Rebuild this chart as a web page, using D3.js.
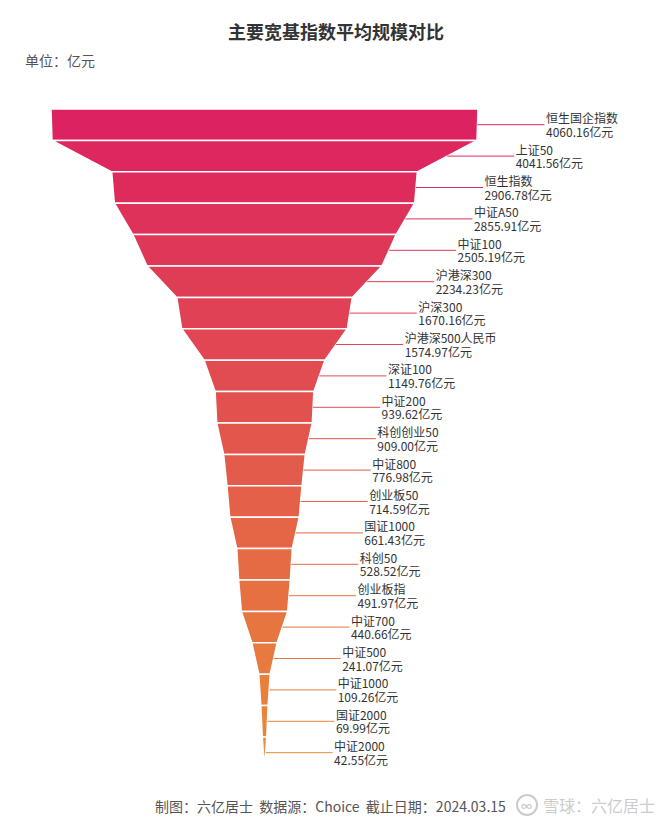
<!DOCTYPE html>
<html>
<head>
<meta charset="utf-8">
<script src="https://cdn.jsdelivr.net/npm/d3@7/dist/d3.min.js"></script>
<style>
  html, body { margin: 0; padding: 0; background: #fff; }
  svg { display: block; }
  text { font-family: "Noto Sans CJK SC", "Microsoft YaHei", sans-serif; }
</style>
</head>
<body>
<svg id="chart" width="672" height="824"></svg>
<script>
const names = ["恒生国企指数","上证50","恒生指数","中证A50","中证100","沪港深300","沪深300","沪港深500人民币","深证100","中证200","科创创业50","中证800","创业板50","国证1000","科创50","创业板指","中证700","中证500","中证1000","国证2000","中证2000"];
const values = [4060.16,4041.56,2906.78,2855.91,2505.19,2234.23,1670.16,1574.97,1149.76,939.62,909.00,776.98,714.59,661.43,528.52,491.97,440.66,241.07,109.26,69.99,42.55];
const unit = "亿元";
const titleText = "主要宽基指数平均规模对比";
const unitLabel = "单位：亿元";
const footerText = "制图：六亿居士  数据源：Choice  截止日期：2024.03.15";
const watermarkText = "雪球：六亿居士";

const svg = d3.select("#chart");
const cx = 264.5;
const colorStart = "#dc2260", colorEnd = "#e98a38";

const y = d3.scaleBand().domain(names).range([109, 768.4]).padding(0);
const w = d3.scaleLinear().domain([0, d3.max(values)]).range([0, 427]);
const col = d3.scaleLinear().domain([0, names.length - 1]).range([colorStart, colorEnd]).interpolate(d3.interpolateRgb);
const fmt = d3.format(".2f");

const data = names.map((n, i) => ({
  name: n, value: values[i], idx: i,
  next: i + 1 < values.length ? values[i + 1] : 0
}));

// title
svg.append("text").attr("x", 336).attr("y", 31).attr("text-anchor", "middle")
  .attr("dominant-baseline", "central")
  .attr("font-size", 18).attr("font-weight", "bold").attr("fill", "#333").text(titleText);
svg.append("text").attr("x", 25).attr("y", 60)
  .attr("dominant-baseline", "central")
  .attr("font-size", 14).attr("fill", "#555").text(unitLabel);

const h = y.bandwidth();
const g = svg.append("g");

g.selectAll("path.seg").data(data).join("path")
  .attr("class", "seg")
  .attr("d", d => {
    const y0 = y(d.name), y1 = y0 + h;
    const a = w(d.value) / 2, b = w(d.next) / 2;
    return `M${cx - a},${y0}L${cx + a},${y0}L${cx + b},${y1}L${cx - b},${y1}Z`;
  })
  .attr("fill", d => col(d.idx))
  .attr("stroke", "#fff").attr("stroke-width", 1.5).attr("stroke-linejoin", "round");

const lineLen = 67;
const edgeX = d => cx + (w(d.value) + w(d.next)) / 4;
const lab = g.selectAll("g.lab").data(data).join("g").attr("class", "lab");
lab.append("line")
  .attr("x1", d => edgeX(d))
  .attr("x2", d => edgeX(d) + lineLen)
  .attr("y1", d => y(d.name) + h / 2)
  .attr("y2", d => y(d.name) + h / 2)
  .attr("stroke", d => col(d.idx)).attr("stroke-width", 1);
lab.append("text")
  .attr("x", d => edgeX(d) + lineLen + 1.5)
  .attr("y", d => y(d.name) + h / 2 - 7)
  .attr("dominant-baseline", "central")
  .attr("font-size", 12).attr("fill", "#333").text(d => d.name);
lab.append("text")
  .attr("x", d => edgeX(d) + lineLen + 1.5)
  .attr("y", d => y(d.name) + h / 2 + 6.5)
  .attr("dominant-baseline", "central")
  .attr("font-size", 12).attr("fill", "#333").text(d => fmt(d.value) + unit);

// footer
svg.append("text").attr("x", 155).attr("y", 806).attr("dominant-baseline", "central")
  .attr("font-size", 14).attr("fill", "#555").attr("xml:space", "preserve").text(footerText);

// watermark
const wm = svg.append("g").attr("opacity", 0.6);
wm.append("rect").attr("x", 512).attr("y", 793).attr("width", 150).attr("height", 26).attr("fill", "#fff").attr("opacity", 0.5);
wm.append("circle").attr("cx", 527).attr("cy", 805).attr("r", 10)
  .attr("fill", "none").attr("stroke", "#aaa").attr("stroke-width", 2);
wm.append("text").attr("x", 521).attr("y", 806).attr("dominant-baseline", "central")
  .attr("font-size", 11).attr("fill", "#aaa").attr("font-weight", "bold").text("\u221e");
wm.append("text").attr("x", 543).attr("y", 805).attr("dominant-baseline", "central")
  .attr("font-size", 16).attr("fill", "#aaa").text(watermarkText);
</script>
</body>
</html>
